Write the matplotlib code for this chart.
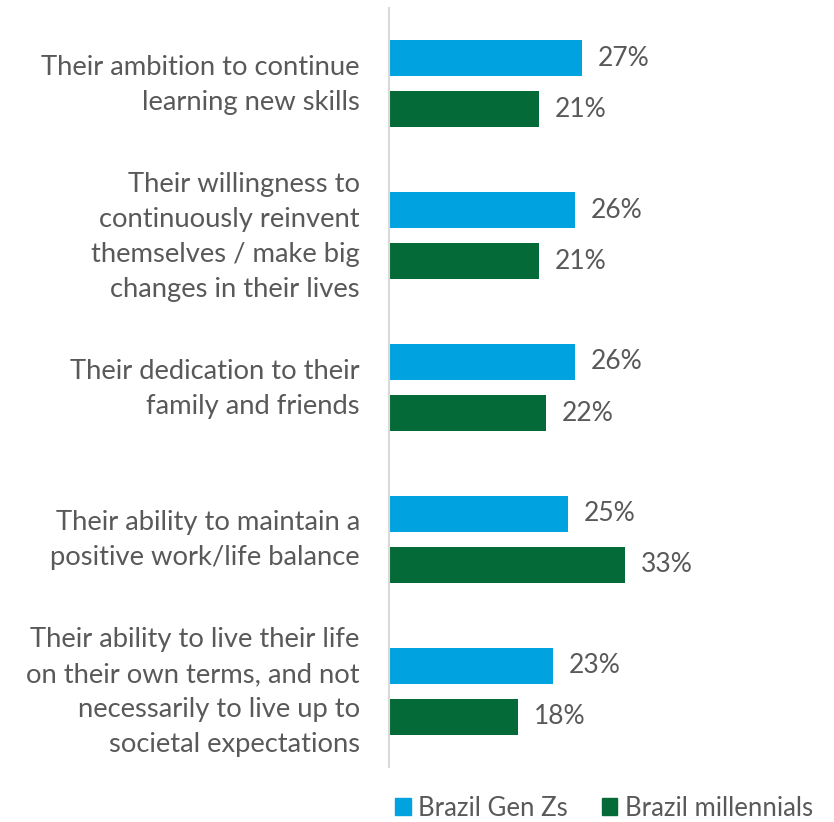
import numpy as np
import matplotlib.pyplot as plt
import matplotlib.transforms as mtransforms
from matplotlib.patches import Patch

# Дані з графіка
categories = [
    "Their ambition to continue\nlearning new skills",
    "Their willingness to\ncontinuously reinvent\nthemselves / make big\nchanges in their lives",
    "Their dedication to their\nfamily and friends",
    "Their ability to maintain a\npositive work/life balance",
    "Their ability to live their life\non their own terms, and not\nnecessarily to live up to\nsocietal expectations",
]
gen_z = [27, 26, 26, 25, 23]
millennials = [21, 21, 22, 33, 18]
series_names = ["Brazil Gen Zs", "Brazil millennials"]

blue = "#00A3E0"
green = "#046A38"
text_color = "#595959"

plt.rcParams['font.family'] = ['Lato', 'DejaVu Sans']

fig = plt.figure(figsize=(8.34, 8.22), dpi=100)
ax = fig.add_axes([389 / 834, 1 - 767 / 822, 429 / 834, 759 / 822])

y = np.arange(len(categories))
off = 0.168
h = 0.237
b1 = ax.barh(y - off, gen_z, height=h, color=blue)
b2 = ax.barh(y + off, millennials, height=h, color=green)

for bars, vals in [(b1, gen_z), (b2, millennials)]:
    for bar, v in zip(bars, vals):
        ax.text(bar.get_width() + 2.2, bar.get_y() + bar.get_height() / 2, f"{v}%",
                va='center', ha='left', fontsize=19, color=text_color)

ax.set_xlim(0, 60)
ax.set_ylim(len(categories) - 0.5, -0.5)
ax.set_yticks(y)
ax.set_yticklabels(categories, fontsize=19.7, color=text_color, linespacing=1.5)
ax.tick_params(axis='y', length=0, pad=21)
ax.set_xticks([])

# трохи піднімаємо підписи категорій
shift = mtransforms.ScaledTranslation(0, 6.5 / 100, fig.dpi_scale_trans)
for lab in ax.get_yticklabels():
    lab.set_transform(lab.get_transform() + shift)

for s in ['top', 'right', 'bottom']:
    ax.spines[s].set_visible(False)
ax.spines['left'].set_color('#D9D9D9')
ax.spines['left'].set_linewidth(1.5)

handles = [Patch(color=blue), Patch(color=green)]
fig.legend(handles, series_names, loc='center', bbox_to_anchor=(604 / 834, 1 - 808 / 822),
           ncol=2, frameon=False, fontsize=18.5, labelcolor=text_color,
           handlelength=0.6, handleheight=0.6, handletextpad=0.3, columnspacing=1.3)

plt.savefig("out.png", dpi=100)
